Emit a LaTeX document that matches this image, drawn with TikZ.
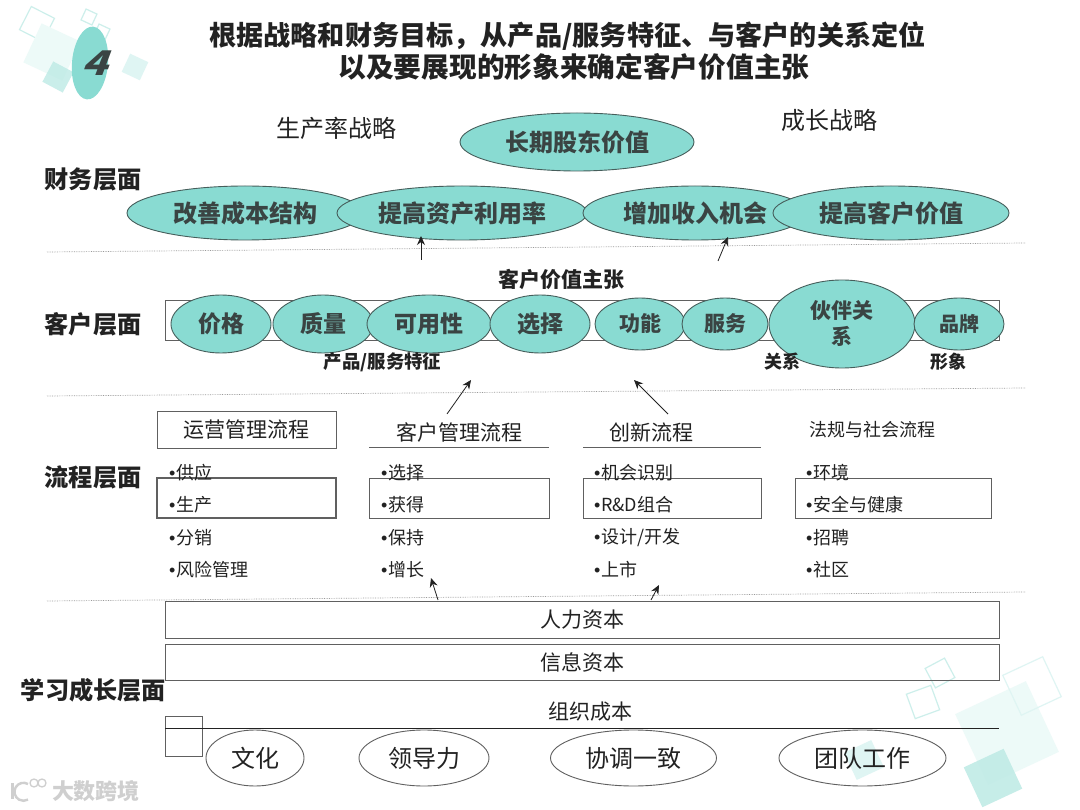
\documentclass[tikz,border=0pt]{standalone}
\usepackage{fontspec}
\setmainfont{Noto Sans CJK SC}
\newfontfamily\bulfont{Liberation Sans}
\newcommand{\bul}{{\bulfont •}\hspace{0.6pt}}
\usetikzlibrary{shapes.geometric,arrows.meta}
\definecolor{teal1}{HTML}{89DBD2}
\definecolor{edge}{HTML}{465E5B}
\definecolor{ink}{HTML}{222222}
\definecolor{tink}{HTML}{3A4443}
\definecolor{boxline}{HTML}{606060}
\definecolor{sqa}{HTML}{EDFAF8}
\definecolor{sqb}{HTML}{BDEAE5}
\definecolor{sqc}{HTML}{DFF5F3}
\definecolor{sqd}{HTML}{CDEFEB}
\definecolor{wmgray}{HTML}{CFCFCF}
\tikzset{
  x=1pt,y=-1pt,
  fs/.style={font=\fontsize{#1}{#1}\selectfont},
  fsb/.style={font=\fontsize{#1}{#1}\selectfont\bfseries},
  tealell/.style={ellipse,draw=edge,line width=0.9pt,fill=teal1,inner sep=0pt,text=tink},
  whiteell/.style={ellipse,draw=boxline,line width=0.9pt,inner sep=0pt,text=ink},
  framebox/.style={draw=boxline,line width=0.95pt},
  sep/.style={draw=gray!80,line width=0.7pt,densely dotted},
  up/.style={draw=ink,line width=0.8pt,-{Stealth[length=9pt,width=8pt]}},
  label/.style={text=ink,inner sep=0pt},
  itemtxt/.style={text=ink,inner sep=0pt,anchor=west,fs=18},
  sqfill/.style={fill=#1,draw=none,rectangle,inner sep=0pt},
  sqline/.style={draw=sqd,line width=1.2pt,fill=none,rectangle,inner sep=0pt}
}
\begin{document}
\begin{tikzpicture}
\useasboundingbox[fill=white] (0,0) rectangle (1080,810);
% decoration top-left
\node[sqline,minimum size=26pt,rotate=-27] (d1) at (37,24) {};
\node[sqfill=sqa,minimum size=43pt,rotate=-25] (d2) at (52,52) {};
\node[sqfill=sqb,opacity=.8,minimum size=23pt,rotate=-28] (d3) at (58,77) {};
\node[sqline,minimum size=12pt,rotate=-25] (d4) at (89,17) {};
\node[sqline,minimum size=12pt,rotate=-25] (d5) at (102,32) {};
\node[sqfill=sqc,minimum size=20pt,rotate=-25] (d6) at (135,67) {};
% decoration bottom-right
\node[sqline,minimum size=22pt,rotate=28] (d7) at (940,673) {};
\node[sqline,minimum size=26pt,rotate=20] (d8) at (923,702) {};
\node[sqfill=sqa,minimum size=78pt,rotate=25] (d9) at (1007,733) {};
\node[sqline,minimum size=44pt,rotate=25,draw=sqc] (d10) at (1032,686) {};
\node[sqfill=sqb,opacity=.85,minimum size=44pt,rotate=25] (d11) at (993,778) {};
\node[sqfill=sqc,minimum size=30pt,rotate=25] (d12) at (864,760) {};
% badge
\node[ellipse,fill=teal1,minimum width=36pt,minimum height=73pt,rotate=-5,inner sep=0pt] (badge) at (90,63) {};
\node[text=tink,inner sep=0pt,xscale=1.25,font=\fontsize{34}{34}\selectfont\bfseries] (four) at (94,63) {\addfontfeature{FakeSlant=0.3}4};
% title
\node[label,fsb=27.15] (t1) at (567.5,36) {根据战略和财务目标，从产品/服务特征、与客户的关系定位};
\node[label,fsb=27.7] (t2) at (574,67) {以及要展现的形象来确定客户价值主张};
% strategy labels
\node[label,fs=24] (s1) at (336,128) {生产率战略};
\node[label,fs=24] (s2) at (829,120) {成长战略};
% layer labels
\node[label,fsb=24.2] (l1) at (93,179) {财务层面};
\node[label,fsb=24.2] (l2) at (93,324) {客户层面};
\node[label,fsb=24.2] (l3) at (93,477) {流程层面};
\node[label,fsb=24.2] (l4) at (93.5,690) {学习成长层面};
% financial ellipses
\node[tealell,minimum width=234pt,minimum height=58pt,fsb=24] (f0) at (577,142) {长期股东价值};
\node[tealell,minimum width=236pt,minimum height=54pt,fsb=24] (f1) at (245,213) {改善成本结构};
\node[tealell,minimum width=250pt,minimum height=54pt,fsb=24] (f2) at (462,213) {提高资产利用率};
\node[tealell,minimum width=224pt,minimum height=54pt,fsb=24] (f3) at (695,213) {增加收入机会};
\node[tealell,minimum width=236pt,minimum height=54pt,fsb=24] (f4) at (891,213) {提高客户价值};
% separators
\coordinate (a1) at (47,252); \coordinate (a2) at (1025,243);
\coordinate (b1) at (47,396); \coordinate (b2) at (1025,388);
\coordinate (c1) at (47,601); \coordinate (c2) at (1025,592);
\draw[sep] (a1) -- (a2);
\draw[sep] (b1) -- (b2);
\draw[sep] (c1) -- (c2);
% customer
\node[label,fsb=21] (cv) at (561,279) {客户价值主张};
\node[framebox,minimum width=834pt,minimum height=40pt,inner sep=0pt] (cbar) at (582,320) {};
\node[tealell,minimum width=100pt,minimum height=58pt,fsb=23] (c_a) at (221,324) {价格};
\node[tealell,minimum width=100pt,minimum height=58pt,fsb=23] (c_b) at (323,324) {质量};
\node[tealell,minimum width=124pt,minimum height=58pt,fsb=23] (c_c) at (429,324) {可用性};
\node[tealell,minimum width=100pt,minimum height=58pt,fsb=23] (c_d) at (540,324) {选择};
\node[tealell,minimum width=90pt,minimum height=52pt,fsb=21] (c_e) at (640,324) {功能};
\node[tealell,minimum width=86pt,minimum height=52pt,fsb=21] (c_f) at (725,324) {服务};
\node[tealell,minimum width=146pt,minimum height=88pt,fsb=21,align=center] (c_g) at (842,324) {伙伴关\\[5pt]系};
\node[tealell,minimum width=90pt,minimum height=52pt,fsb=20] (c_h) at (959,324) {品牌};
\node[label,fsb=18.4] (p1) at (382.5,362) {产品/服务特征};
\node[label,fsb=18] (p2) at (782.5,362) {关系};
\node[label,fsb=18] (p3) at (948,362) {形象};
% arrows
\coordinate (u1a) at (421,260); \coordinate (u1b) at (421,236);
\coordinate (u2a) at (718,261); \coordinate (u2b) at (728,237);
\coordinate (u3a) at (447,414); \coordinate (u3b) at (471,380);
\coordinate (u4a) at (668,414); \coordinate (u4b) at (634,380);
\coordinate (u5a) at (438,600); \coordinate (u5b) at (431,578);
\coordinate (u6a) at (651,600); \coordinate (u6b) at (659,585);
\draw[up] (u1a) -- (u1b);
\draw[up] (u2a) -- (u2b);
\draw[up] (u3a) -- (u3b);
\draw[up] (u4a) -- (u4b);
\draw[up] (u5a) -- (u5b);
\draw[up] (u6a) -- (u6b);
% process headings
\node[framebox,minimum width=179pt,minimum height=37pt,inner sep=0pt,text=ink,fs=21] (h1) at (246.5,429.5) {运营管理流程};
\node[label,fs=21] (h2) at (459,432) {客户管理流程};
\coordinate (h2a) at (369,447); \coordinate (h2b) at (549,447);
\draw[boxline,line width=.9pt] (h2a) -- (h2b);
\node[label,fs=21] (h3) at (651,432) {创新流程};
\coordinate (h3a) at (583,447); \coordinate (h3b) at (761,447);
\draw[boxline,line width=.9pt] (h3a) -- (h3b);
\node[label,fs=18] (h4) at (872,430) {法规与社会流程};
% process boxes
\node[framebox,line width=1.2pt,minimum width=179pt,minimum height=40pt,inner sep=0pt] (b_a) at (246.5,498) {};
\node[framebox,minimum width=180pt,minimum height=40pt,inner sep=0pt] (b_b) at (459,498) {};
\node[framebox,minimum width=178pt,minimum height=40pt,inner sep=0pt] (b_c) at (672,498) {};
\node[framebox,minimum width=196pt,minimum height=40pt,inner sep=0pt] (b_d) at (893,498) {};
% items
\node[itemtxt] (i11) at (169,473) {\bul 供应};
\node[itemtxt] (i12) at (169,505) {\bul 生产};
\node[itemtxt] (i13) at (169,538) {\bul 分销};
\node[itemtxt] (i14) at (169,570) {\bul 风险管理};
\node[itemtxt] (i21) at (381,473) {\bul 选择};
\node[itemtxt] (i22) at (381,505) {\bul 获得};
\node[itemtxt] (i23) at (381,538) {\bul 保持};
\node[itemtxt] (i24) at (381,570) {\bul 增长};
\node[itemtxt] (i31) at (594,473) {\bul 机会识别};
\node[itemtxt] (i32) at (594,505) {\bul R\&D组合};
\node[itemtxt] (i33) at (594,538) {\bul 设计/开发};
\node[itemtxt] (i34) at (594,570) {\bul 上市};
\node[itemtxt] (i41) at (806,473) {\bul 环境};
\node[itemtxt] (i42) at (806,505) {\bul 安全与健康};
\node[itemtxt] (i43) at (806,538) {\bul 招聘};
\node[itemtxt] (i44) at (806,570) {\bul 社区};
% capital
\node[framebox,minimum width=834pt,minimum height=37pt,inner sep=0pt,text=ink,fs=21] (k1) at (582,619.5) {人力资本};
\node[framebox,minimum width=834pt,minimum height=36pt,inner sep=0pt,text=ink,fs=21] (k2) at (582,662) {信息资本};
\node[label,fs=21] (k3) at (590.5,712) {组织成本};
\node[draw=boxline,line width=.8pt,minimum width=37pt,minimum height=40pt,inner sep=0pt] (k4) at (183.5,736) {};
\coordinate (k5a) at (165,728); \coordinate (k5b) at (999,728);
\draw[ink,line width=.8pt] (k5a) -- (k5b);
\node[whiteell,minimum width=98pt,minimum height=56pt,fs=24] (o1) at (255,758) {文化};
\node[whiteell,minimum width=130pt,minimum height=56pt,fs=24] (o2) at (424,758) {领导力};
\node[whiteell,minimum width=166pt,minimum height=56pt,fs=24] (o3) at (633.5,758) {协调一致};
\node[whiteell,minimum width=167pt,minimum height=56pt,fs=24] (o4) at (862.5,758) {团队工作};
% watermark
\node[inner sep=0pt,text=wmgray,fsb=22] (w1) at (96,791) {大数跨境};
\draw[wmgray,line width=2.4pt] (12.5,783) -- (12.5,799);
\draw[wmgray,line width=2.4pt] (28,784) arc[start angle=60,end angle=300,radius=9pt];
\node[circle,draw=wmgray,line width=1.3pt,minimum size=8pt,inner sep=0pt] (w3) at (34,783) {};
\node[circle,draw=wmgray,line width=1.3pt,minimum size=8pt,inner sep=0pt] (w4) at (42,783) {};
\end{tikzpicture}
\end{document}
